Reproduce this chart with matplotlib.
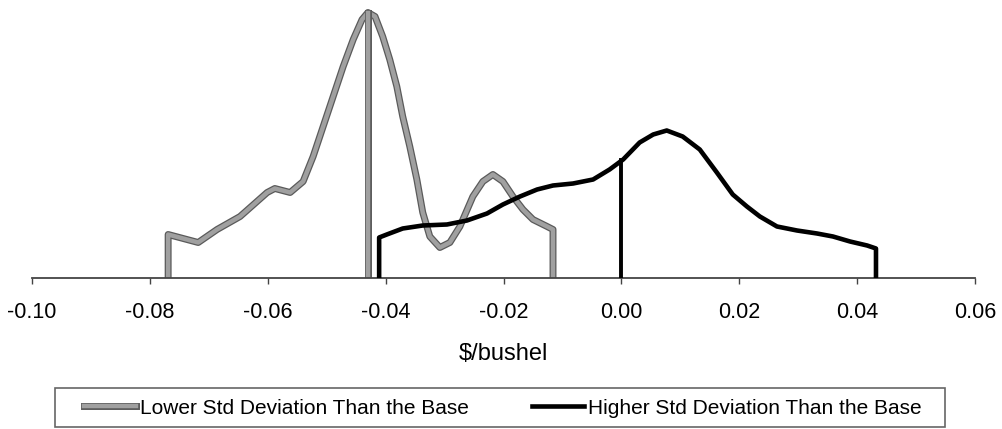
import matplotlib
matplotlib.use("Agg")
import matplotlib.pyplot as plt
import matplotlib.patheffects as pe
from matplotlib.patches import Rectangle

plt.rcParams['font.family'] = ['Liberation Sans', 'DejaVu Sans']

# distribuzione con deviazione standard piu bassa (grigia)
low_x = [-0.0769, -0.0769, -0.0718, -0.0686, -0.0647, -0.0601, -0.0588, -0.0562,
         -0.0540, -0.0523, -0.0506, -0.0489, -0.0472, -0.0455, -0.0440, -0.0430,
         -0.0418, -0.0405, -0.0393, -0.0381, -0.0371, -0.0359, -0.0347, -0.0337,
         -0.0325, -0.0308, -0.0291, -0.0274, -0.0252, -0.0235, -0.0218, -0.0201,
         -0.0184, -0.0167, -0.0150, -0.0126, -0.0116, -0.0116]
low_y = [0, 43, 35, 48, 61, 85, 89, 85,
         96, 121, 151, 181, 211, 238, 258, 265,
         261, 241, 218, 191, 161, 131, 98, 65,
         41, 30, 35, 51, 81, 96, 103, 96,
         81, 68, 58, 51, 48, 0]
low_mean = -0.0430
low_mean_h = 265

# distribuzione con deviazione standard piu alta (nera)
high_x = [-0.0411, -0.0411, -0.0398, -0.0371, -0.0337, -0.0296, -0.0262, -0.0228,
          -0.0201, -0.0172, -0.0143, -0.0116, -0.0082, -0.0048, -0.0020, 0.0003,
          0.0031, 0.0054, 0.0077, 0.0104, 0.0133, 0.0162, 0.0189, 0.0213,
          0.0235, 0.0264, 0.0298, 0.0332, 0.0359, 0.0388, 0.0417, 0.0432, 0.0432]
high_y = [0, 40, 43, 49, 52, 53, 57, 64,
          73, 81, 88, 92, 94, 98, 108, 118,
          135, 143, 147, 141, 128, 105, 83, 71,
          61, 51, 47, 44, 41, 36, 32, 29, 0]
high_mean = 0.0
high_mean_h = 118

xticks = [-0.10, -0.08, -0.06, -0.04, -0.02, 0.00, 0.02, 0.04, 0.06]
xlabels = ["-0.10", "-0.08", "-0.06", "-0.04", "-0.02", "0.00", "0.02", "0.04", "0.06"]

fig = plt.figure(figsize=(10.02, 4.29), dpi=100)
ax = fig.add_axes([32/1002, 1 - 277.5/429, (975-32)/1002, 270/429])

gray_fx = [pe.Stroke(linewidth=5, foreground='#5a5a5a'), pe.Normal()]
l1, = ax.plot(low_x, low_y, color='#a0a0a0', lw=3.2, solid_joinstyle='round',
              path_effects=gray_fx, label='Lower Std Deviation Than the Base', zorder=2)
ax.plot([low_mean, low_mean], [0, low_mean_h], color='#a0a0a0', lw=3.2,
        path_effects=gray_fx, zorder=2)
l2, = ax.plot(high_x, high_y, color='black', lw=3.3, solid_joinstyle='round',
              label='Higher Std Deviation Than the Base', zorder=3)
ax.plot([high_mean, high_mean], [0, high_mean_h], color='black', lw=2.8, zorder=3)

ax.set_xlim(-0.10, 0.06)
ax.set_ylim(0, 270)
ax.set_xticks(xticks)
ax.set_xticklabels(xlabels, fontsize=15.5)
ax.set_yticks([])
for s in ['left', 'right', 'top']:
    ax.spines[s].set_visible(False)
ax.spines['bottom'].set_color('#444444')
ax.spines['bottom'].set_linewidth(1.3)
ax.tick_params(axis='x', direction='out', length=4, width=1, color='#444444', pad=14)
ax.set_xlabel('$/bushel', fontsize=17, labelpad=14)

# cornice della legenda
fig.patches.append(Rectangle((55/1002, 2/429), 890/1002, 39/429, transform=fig.transFigure,
                             fill=False, edgecolor='#666666', lw=1.2))
fig.legend(handles=[l1, l2], loc='center', ncol=2, bbox_to_anchor=(503/1002, 21/429),
           fontsize=15, frameon=False, handlelength=2.5, handletextpad=0.2,
           columnspacing=3.0)

fig.savefig('out.png', dpi=100)
